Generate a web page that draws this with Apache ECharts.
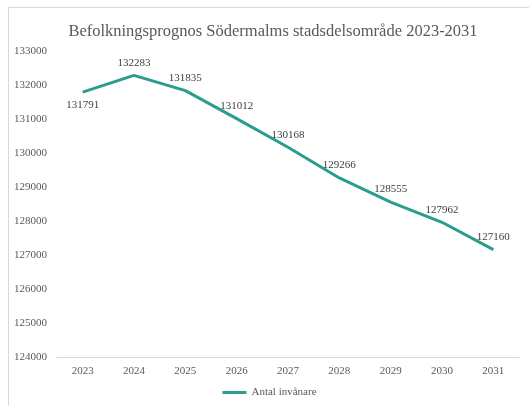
<!DOCTYPE html>
<html lang="sv">
<head>
  <meta charset="UTF-8">
  <title>Befolkningsprognos</title>
  <script src="https://cdn.jsdelivr.net/npm/echarts@6/dist/echarts.min.js"></script>
  <style>
    body { margin: 0; background: #fff; overflow: hidden; }
    #chart { position: absolute; left: 8px; top: 7px; width: 521px; height: 399px;
             border-left: 1px solid #d9d9d9; border-top: 1px solid #d9d9d9; }
  </style>
</head>
<body>
  <div id="chart"></div>
  <script>
    var years = ['2023', '2024', '2025', '2026', '2027', '2028', '2029', '2030', '2031'];
    var invanare = [131791, 132283, 131835, 131012, 130168, 129266, 128555, 127962, 127160];
    var labelPos = ['bottom', 'top', 'top', 'top', 'top', 'top', 'top', 'top', 'top'];

    var serif = '"Liberation Serif", "DejaVu Serif", serif';
    var grey = '#595959';

    var chart = echarts.init(document.getElementById('chart'));
    chart.setOption({
      animation: false,
      textStyle: { fontFamily: serif },
      title: {
        text: 'Befolkningsprognos Södermalms stadsdelsområde 2023-2031',
        left: 259, top: 10, textAlign: 'center',
        textStyle: { fontFamily: serif, fontSize: 16.5, fontWeight: 'normal', color: grey }
      },
      grid: { left: 48, right: 11, top: 43, bottom: 50 },
      legend: {
        bottom: 4, left: 'center',
        itemWidth: 24, itemHeight: 3, itemGap: 4,
        textStyle: { fontFamily: serif, fontSize: 11, color: grey },
        data: [{ name: 'Antal invånare', icon: 'rect' }]
      },
      xAxis: {
        type: 'category', data: years, boundaryGap: true,
        axisLine: { lineStyle: { color: '#d9d9d9' } },
        axisTick: { show: false },
        axisLabel: { fontFamily: serif, fontSize: 11, color: grey, margin: 9 }
      },
      yAxis: {
        type: 'value', min: 124000, max: 133000, interval: 1000,
        splitLine: { show: false },
        axisLine: { show: false }, axisTick: { show: false },
        axisLabel: { fontFamily: serif, fontSize: 11, color: grey, margin: 10,
                     formatter: function (v) { return String(v); } }
      },
      series: [{
        name: 'Antal invånare', type: 'line',
        data: invanare.map(function (v, i) {
          return { value: v, label: { position: labelPos[i] } };
        }),
        symbol: 'circle', symbolSize: 0.1, showSymbol: true,
        lineStyle: { color: '#2a9d8f', width: 3 },
        itemStyle: { color: '#2a9d8f' },
        label: { show: true, fontFamily: serif, fontSize: 11, color: '#404040', distance: 7 }
      }]
    });
  </script>
</body>
</html>
